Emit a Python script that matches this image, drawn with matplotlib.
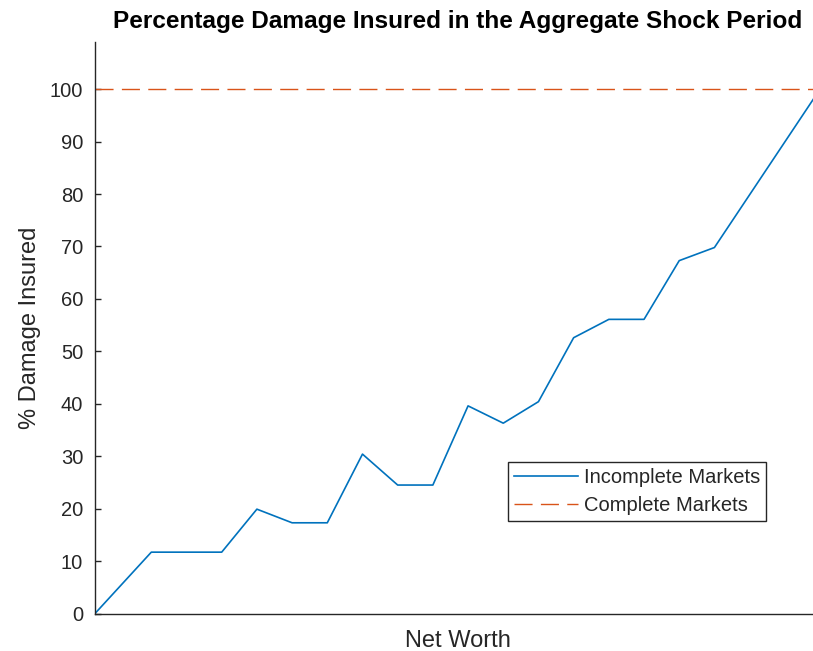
import matplotlib
matplotlib.use("Agg")
import matplotlib.pyplot as plt

plt.rcParams['font.family'] = ['Liberation Sans', 'DejaVu Sans']

# Net worth grid (arbitrary units) and share of damage insured (%)
net_worth = [0, 1.6, 3.6, 4.6, 5.6, 6.6, 7.6, 8.6, 9.6, 10.6,
             11.6, 12.6, 13.6, 14.6, 15.6, 16.6, 17.6, 20.6]
incomplete = [0, 11.7, 11.7, 19.9, 17.3, 17.3, 30.4, 24.5, 24.5, 39.6,
              36.3, 40.4, 52.6, 56.1, 56.1, 67.3, 69.8, 100.0]
complete = [100, 100]
complete_x = [net_worth[0], net_worth[-1]]

y_ticks = list(range(0, 101, 10))

fig = plt.figure(figsize=(8.13, 6.51), dpi=100)
# axes runs slightly past the right edge of the image, like the cropped original
ax = fig.add_axes([95 / 813, 37.5 / 651, 725 / 813, 571.5 / 651])

ax.plot(net_worth, incomplete, color='#0072BD', lw=1.2, label='Incomplete Markets')
ax.plot(complete_x, complete, color='#D95319', lw=1.0,
        linestyle=(0, (13, 6)), label='Complete Markets')

ax.set_xlim(net_worth[0], net_worth[-1])
ax.set_ylim(0, 109)
ax.set_yticks(y_ticks)
ax.set_xticks([])

ax.spines['top'].set_visible(False)
ax.spines['right'].set_visible(False)
for s in ('left', 'bottom'):
    ax.spines[s].set_color('#262626')
    ax.spines[s].set_linewidth(1.0)

ax.tick_params(axis='y', direction='in', length=4, width=1.0, colors='#262626',
               labelsize=14.5, pad=8.5)

ax.set_title('Percentage Damage Insured in the Aggregate Shock Period',
             fontsize=17.6, fontweight='bold', pad=10)
ax.set_xlabel('Net Worth', fontsize=17, color='#262626', labelpad=12)
ax.set_ylabel('% Damage Insured', fontsize=17, color='#262626', labelpad=6)

leg = ax.legend(loc='upper left', bbox_to_anchor=(0.569, 0.2656), borderaxespad=0,
                fontsize=14.5, handlelength=3.2, handletextpad=0.3,
                labelspacing=0.45, borderpad=0.3, fancybox=False,
                edgecolor='#262626', framealpha=1)
leg.get_frame().set_linewidth(1.0)
for t in leg.get_texts():
    t.set_color('#262626')

fig.savefig('out.png', dpi=100)
